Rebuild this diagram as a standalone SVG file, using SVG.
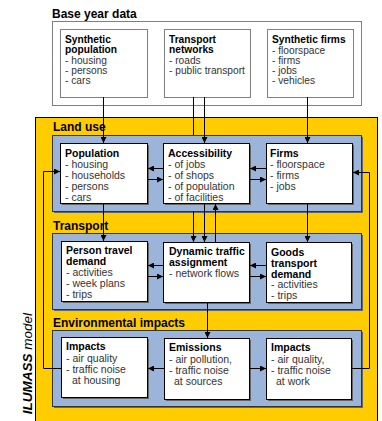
<svg xmlns="http://www.w3.org/2000/svg" width="382" height="421" viewBox="0 0 382 421">
  <style>
    .dot { fill: #fff; stroke: #000; stroke-width: 1; stroke-dasharray: 1 1; }
    .model { fill: #FFCC00; stroke: #000; stroke-width: 1; }
    .panel { fill: #9BB5DA; stroke: #333; stroke-width: 1; }
    .box { fill: #fff; stroke: #000; stroke-width: 1; }
    .shadow { fill: #666; }
    .sec { font-family: "Liberation Sans", Arial, sans-serif; font-weight: bold; font-size: 12px; fill: #000; }
    .t { font-family: "Liberation Sans", Arial, sans-serif; font-weight: bold; font-size: 10.5px; fill: #000; }
    .i { font-family: "Liberation Sans", Arial, sans-serif; font-size: 10.5px; fill: #333; }
    .top .t, .top .i { font-size: 10.2px; }
    .c { fill: none; stroke: #000; stroke-width: 1; }
    .a { marker-end: url(#ah); }
  </style>
  <defs>
    <marker id="ah" markerUnits="userSpaceOnUse" markerWidth="6" markerHeight="6" refX="6" refY="3" orient="auto">
      <path d="M0,0 L6,3 L0,6 z" fill="#000"/>
    </marker>
  </defs>

  <rect width="382" height="421" fill="#fff"/>

  <!-- Base year data -->
  <g id="base-year-data" class="top">
    <text class="sec" x="52" y="18">Base year data</text>
    <rect class="dot" x="52.5" y="21.5" width="309" height="84"/>
  </g>
  <g id="synthetic-population" class="top">
    <rect class="dot" x="60.5" y="29.5" width="87" height="68"/>
    <text class="t" x="65" y="43">Synthetic</text>
    <text class="t" x="65" y="53">population</text>
    <text class="i" x="65" y="63.5">- housing</text>
    <text class="i" x="65" y="73.5">- persons</text>
    <text class="i" x="65" y="83.5">- cars</text>
  </g>
  <g id="transport-networks" class="top">
    <rect class="dot" x="164.5" y="29.5" width="86" height="68"/>
    <text class="t" x="169" y="43">Transport</text>
    <text class="t" x="169" y="53">networks</text>
    <text class="i" x="169" y="63.5">- roads</text>
    <text class="i" x="169" y="73.5">- public transport</text>
  </g>
  <g id="synthetic-firms" class="top">
    <rect class="dot" x="267.5" y="29.5" width="86" height="68"/>
    <text class="t" x="272" y="43">Synthetic firms</text>
    <text class="i" x="272" y="53.5">- floorspace</text>
    <text class="i" x="272" y="63.5">- firms</text>
    <text class="i" x="272" y="73.5">- jobs</text>
    <text class="i" x="272" y="83.5">- vehicles</text>
  </g>

  <!-- ILUMASS model frame -->
  <g id="ilumass-model">
    <rect class="model" x="35.5" y="117.5" width="342" height="320"/>
    <text transform="translate(32,313) rotate(-90)" text-anchor="end" font-family="Liberation Sans, Arial, sans-serif" font-size="13.5" font-style="italic" fill="#000"><tspan font-weight="bold">ILUMASS</tspan> model</text>
  </g>

  <!-- Section panels -->
  <g id="land-use">
    <rect class="shadow" x="54" y="137" width="309" height="76"/>
    <rect class="panel" x="52.5" y="135.5" width="309" height="76"/>
    <text class="sec" x="53" y="131">Land use</text>
  </g>
  <g id="transport">
    <rect class="shadow" x="54" y="235" width="309" height="76"/>
    <rect class="panel" x="52.5" y="233.5" width="309" height="76"/>
    <text class="sec" x="53" y="230">Transport</text>
  </g>
  <g id="environmental-impacts">
    <rect class="shadow" x="54" y="332" width="309" height="76"/>
    <rect class="panel" x="52.5" y="330.5" width="309" height="76"/>
    <text class="sec" x="53" y="327">Environmental impacts</text>
  </g>

  <!-- Land use nodes -->
  <g id="population">
    <rect class="shadow" x="62" y="145" width="87" height="60"/>
    <rect class="box" x="60.5" y="143.5" width="87" height="60"/>
    <text class="t" x="65" y="157">Population</text>
    <text class="i" x="65" y="167.5">- housing</text>
    <text class="i" x="65" y="178.5">- households</text>
    <text class="i" x="65" y="189.5">- persons</text>
    <text class="i" x="65" y="200.5">- cars</text>
  </g>
  <g id="accessibility">
    <rect class="shadow" x="165" y="145" width="86" height="60"/>
    <rect class="box" x="163.5" y="143.5" width="86" height="60"/>
    <text class="t" x="168" y="157">Accessibility</text>
    <text class="i" x="168" y="167.5">- of jobs</text>
    <text class="i" x="168" y="178.5">- of shops</text>
    <text class="i" x="168" y="189.5">- of population</text>
    <text class="i" x="168" y="200.5">- of facilities</text>
  </g>
  <g id="firms">
    <rect class="shadow" x="268" y="145" width="86" height="60"/>
    <rect class="box" x="266.5" y="143.5" width="86" height="60"/>
    <text class="t" x="270" y="157">Firms</text>
    <text class="i" x="270" y="167.5">- floorspace</text>
    <text class="i" x="270" y="178.5">- firms</text>
    <text class="i" x="270" y="189.5">- jobs</text>
  </g>

  <!-- Transport nodes -->
  <g id="person-travel-demand">
    <rect class="shadow" x="63" y="243" width="86" height="60"/>
    <rect class="box" x="61.5" y="241.5" width="86" height="60"/>
    <text class="t" x="66" y="254">Person travel</text>
    <text class="t" x="66" y="265">demand</text>
    <text class="i" x="66" y="276">- activities</text>
    <text class="i" x="66" y="287">- week plans</text>
    <text class="i" x="66" y="298">- trips</text>
  </g>
  <g id="dynamic-traffic-assignment">
    <rect class="shadow" x="165" y="244" width="86" height="60"/>
    <rect class="box" x="163.5" y="242.5" width="86" height="60"/>
    <text class="t" x="169" y="255">Dynamic traffic</text>
    <text class="t" x="169" y="266">assignment</text>
    <text class="i" x="169" y="277">- network flows</text>
  </g>
  <g id="goods-transport-demand">
    <rect class="shadow" x="268" y="244" width="85" height="60"/>
    <rect class="box" x="266.5" y="242.5" width="85" height="60"/>
    <text class="t" x="271" y="256">Goods</text>
    <text class="t" x="271" y="267">transport</text>
    <text class="t" x="271" y="277.5">demand</text>
    <text class="i" x="271" y="288">- activities</text>
    <text class="i" x="271" y="299">- trips</text>
  </g>

  <!-- Environmental impact nodes -->
  <g id="impacts-housing">
    <rect class="shadow" x="63" y="339" width="86" height="60"/>
    <rect class="box" x="61.5" y="337.5" width="86" height="60"/>
    <text class="t" x="66" y="350">Impacts</text>
    <text class="i" x="66" y="361.5">- air quality</text>
    <text class="i" x="66" y="372.5">- traffic noise</text>
    <text class="i" x="72" y="383.5">at housing</text>
  </g>
  <g id="emissions">
    <rect class="shadow" x="166" y="340" width="85" height="61"/>
    <rect class="box" x="164.5" y="338.5" width="85" height="61"/>
    <text class="t" x="169" y="351">Emissions</text>
    <text class="i" x="169" y="362.5">- air pollution,</text>
    <text class="i" x="169" y="373.5">- traffic noise</text>
    <text class="i" x="174" y="384.5">at sources</text>
  </g>
  <g id="impacts-work">
    <rect class="shadow" x="268" y="340" width="85" height="61"/>
    <rect class="box" x="266.5" y="338.5" width="85" height="61"/>
    <text class="t" x="271" y="351">Impacts</text>
    <text class="i" x="271" y="362.5">- air quality,</text>
    <text class="i" x="271" y="373.5">- traffic noise</text>
    <text class="i" x="276" y="384.5">at work</text>
  </g>

  <!-- Connectors -->
  <g id="connectors">
    <!-- base year data into the model -->
    <line class="c a" x1="103.5" y1="97" x2="103.5" y2="143"/>
    <line class="c" x1="193.5" y1="97" x2="193.5" y2="135"/>
    <line class="c a" x1="193.5" y1="211" x2="193.5" y2="242"/>
    <line class="c a" x1="204.5" y1="97" x2="204.5" y2="143"/>
    <line class="c a" x1="307.5" y1="97" x2="307.5" y2="143"/>

    <!-- land use -->
    <line class="c a" x1="163" y1="168.5" x2="148" y2="168.5"/>
    <line class="c a" x1="148" y1="179.5" x2="163" y2="179.5"/>
    <line class="c a" x1="266" y1="168.5" x2="250" y2="168.5"/>
    <line class="c a" x1="250" y1="179.5" x2="266" y2="179.5"/>

    <!-- land use to transport -->
    <line class="c a" x1="103.5" y1="204" x2="103.5" y2="241"/>
    <line class="c a" x1="204.5" y1="204" x2="204.5" y2="242"/>
    <line class="c a" x1="215.5" y1="242" x2="215.5" y2="204"/>
    <line class="c a" x1="307.5" y1="204" x2="307.5" y2="242"/>

    <!-- transport -->
    <line class="c a" x1="163" y1="265.5" x2="148" y2="265.5"/>
    <line class="c a" x1="148" y1="276.5" x2="163" y2="276.5"/>
    <line class="c a" x1="266" y1="265.5" x2="250" y2="265.5"/>
    <line class="c a" x1="250" y1="276.5" x2="266" y2="276.5"/>

    <!-- transport to emissions -->
    <line class="c a" x1="207.5" y1="303" x2="207.5" y2="338"/>

    <!-- emissions to impacts -->
    <line class="c a" x1="164" y1="368.5" x2="148" y2="368.5"/>
    <line class="c a" x1="250" y1="368.5" x2="266" y2="368.5"/>

    <!-- feedback to land use -->
    <polyline class="c a" points="61,368.5 43.5,368.5 43.5,171.5 60,171.5"/>
    <polyline class="c a" points="352,368.5 369.5,368.5 369.5,172.5 353,172.5"/>
  </g>
</svg>
